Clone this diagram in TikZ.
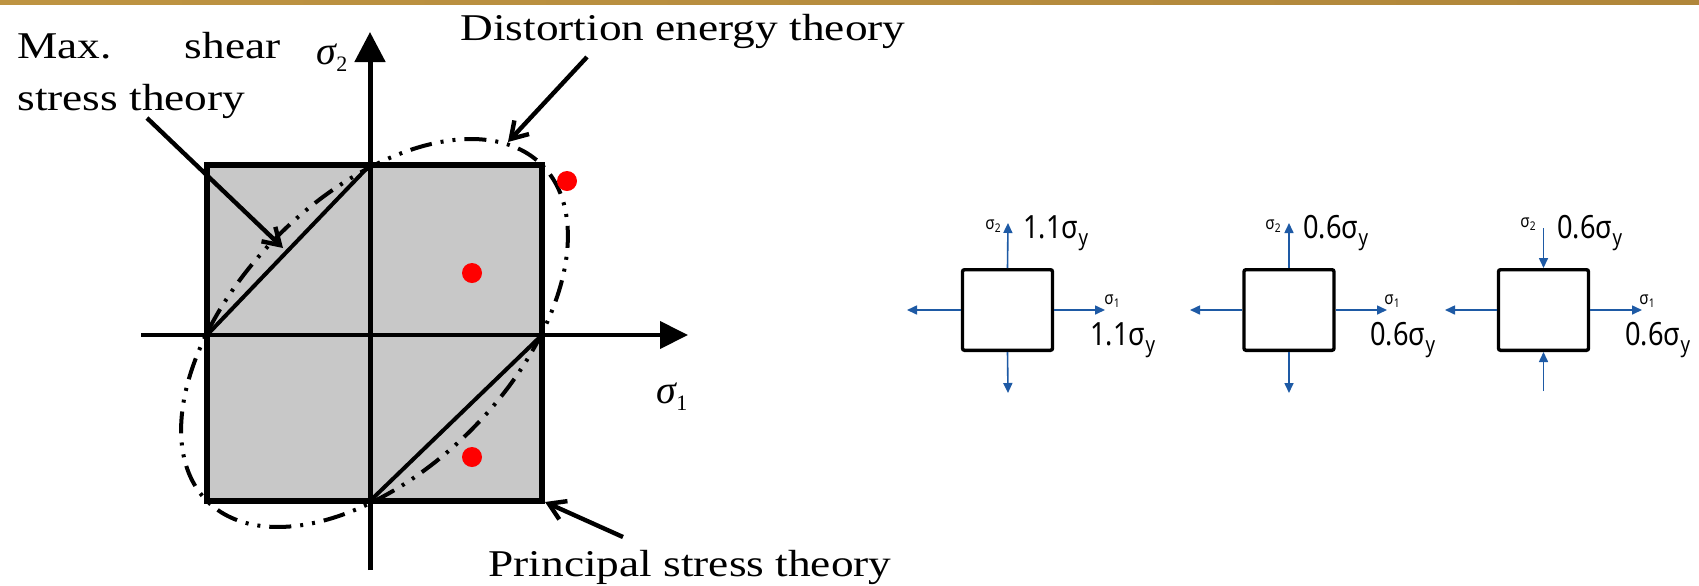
\documentclass[tikz,border=0pt]{standalone}
\usepackage{fontspec}
\setmainfont{Liberation Serif}
\newfontfamily\timesx[FakeStretch=1.2]{Liberation Serif}
\newfontfamily\sansx[FakeStretch=0.85]{Noto Sans}
\usetikzlibrary{arrows.meta}
\definecolor{goldA}{RGB}{190,148,66}
\definecolor{goldM}{RGB}{222,190,112}
\definecolor{goldB}{RGB}{176,134,58}
\definecolor{fillgray}{RGB}{200,200,200}
\definecolor{fblue}{RGB}{30,90,165}
\definecolor{dotred}{RGB}{255,0,0}
\begin{document}
\begin{tikzpicture}[x=0.5pt,y=-0.5pt,
  lbl/.style={font=\timesx\fontsize{18.9}{22}\selectfont, inner sep=0pt, anchor=base west},
  axlbl/.style={font=\fontsize{20}{22}\selectfont, inner sep=0pt},
  callout/.style={line width=2.2pt, -{Straight Barb[length=8pt,width=10pt]}},
  ell/.style={line width=2pt, dash pattern=on 11pt off 4.5pt on 1.5pt off 4.5pt on 1.5pt off 4.5pt},
  elem/.style={draw, line width=1.7pt, minimum width=45pt, minimum height=40.3pt, inner sep=0pt, rounded corners=1pt},
  force/.style={draw=fblue, line width=0.8pt, -{Triangle[length=5pt,width=4.5pt]}},
  val/.style={font=\sansx\fontsize{16}{18}\selectfont, inner sep=0pt, anchor=base west},
  sml/.style={font=\sansx\fontsize{9}{10}\selectfont, inner sep=0pt},
  reddot/.style={fill=dotred}
]
\useasboundingbox (0,0) rectangle (1699,585);
\fill[white] (0,0) rectangle (1699,585);
\shade[left color=goldA, middle color=goldM, right color=goldB] (0,0) rectangle (1699,4.5);

% ---- failure-theory diagram ----
\fill[fillgray] (207,165) rectangle (542,501);
\draw[line width=2pt] (207,335) -- (370,165);
\draw[line width=2pt] (370,501) -- (542,335);
\draw[ell] plot[domain=0:360, samples=120, smooth cycle]
  ({374.5+167.5*(cos(\x)-0.57735*sin(\x))}, {333-168*(cos(\x)+0.57735*sin(\x))});
\coordinate (o) at (370,335);
\coordinate (xs) at (141,335);
\coordinate (xe) at (688,335);
\coordinate (ys) at (370,570);
\coordinate (ye) at (370,32);
\draw[line width=2pt, -{Triangle[length=14pt,width=13.5pt]}] (xs) -- (xe);
\draw[line width=2.5pt, -{Triangle[length=15pt,width=15pt]}] (ys) -- (ye);
\draw[line width=3pt] (207,165) rectangle (542,501);

\fill[reddot] (472,273) circle[radius=5pt];
\fill[reddot] (567,181) circle[radius=5pt];
\fill[reddot] (472,457) circle[radius=5pt];

\node[axlbl] (s2) at (332,58) {{\itshape σ}\raisebox{-3.5pt}{\fontsize{11}{11}\selectfont 2}};
\node[axlbl] (s1) at (672,397) {{\itshape σ}\raisebox{-3.5pt}{\fontsize{11}{11}\selectfont 1}};

\node[lbl] (max) at (17,58) {\makebox[131.5pt][s]{Max.\hfill shear}};
\node[lbl] (sst) at (17,110) {stress theory};
\node[lbl] (det) at (460,40) {Distortion energy theory};
\node[lbl] (pst) at (488,576) {Principal stress theory};

\coordinate (c1s) at (147,118);
\coordinate (c1e) at (283,248);
\coordinate (c2s) at (587,57);
\coordinate (c2e) at (508,142);
\coordinate (c3s) at (623,537);
\coordinate (c3e) at (545,502);
\draw[callout] (c1s) -- (c1e);
\draw[callout] (c2s) -- (c2e);
\draw[callout] (c3s) -- (c3e);

% ---- stress elements ----
\node[elem] (e1) at (1007.5,310) {};
\node[elem] (e2) at (1289,310) {};
\node[elem] (e3) at (1543.5,310) {};

\coordinate (e1u) at (1008,223);
\coordinate (e1d) at (1008,393);
\coordinate (e1l) at (907,310);
\coordinate (e1r) at (1105,310);
\draw[force] (e1.north) -- (e1u);
\draw[force] (e1.south) -- (e1d);
\draw[force] (e1.west) -- (e1l);
\draw[force] (e1.east) -- (e1r);

\coordinate (e2u) at (1289,223);
\coordinate (e2d) at (1289,393);
\coordinate (e2l) at (1190,310);
\coordinate (e2r) at (1387,310);
\draw[force] (e2.north) -- (e2u);
\draw[force] (e2.south) -- (e2d);
\draw[force] (e2.west) -- (e2l);
\draw[force] (e2.east) -- (e2r);

\coordinate (e3u) at (1543.5,228);
\coordinate (e3d) at (1543.5,391);
\coordinate (e3l) at (1445,310);
\coordinate (e3r) at (1642,310);
\draw[force] (e3u) -- (e3.north);
\draw[force] (e3d) -- (e3.south);
\draw[force] (e3.west) -- (e3l);
\draw[force] (e3.east) -- (e3r);

\node[sml] (e1s2) at (993,226) {σ\raisebox{-1.5pt}{\fontsize{6}{6}\selectfont 2}};
\node[sml] (e1s1) at (1112,301) {σ\raisebox{-1.5pt}{\fontsize{6}{6}\selectfont 1}};
\node[val] (e1v2) at (1023,238) {1.1σ\raisebox{-3.5pt}{\fontsize{11}{11}\selectfont y}};
\node[val] (e1v1) at (1090,345) {1.1σ\raisebox{-3.5pt}{\fontsize{11}{11}\selectfont y}};

\node[sml] (e2s2) at (1273,226) {σ\raisebox{-1.5pt}{\fontsize{6}{6}\selectfont 2}};
\node[sml] (e2s1) at (1392,301) {σ\raisebox{-1.5pt}{\fontsize{6}{6}\selectfont 1}};
\node[val] (e2v2) at (1303,238) {0.6σ\raisebox{-3.5pt}{\fontsize{11}{11}\selectfont y}};
\node[val] (e2v1) at (1370,345) {0.6σ\raisebox{-3.5pt}{\fontsize{11}{11}\selectfont y}};

\node[sml] (e3s2) at (1528,224) {σ\raisebox{-1.5pt}{\fontsize{6}{6}\selectfont 2}};
\node[sml] (e3s1) at (1647,301) {σ\raisebox{-1.5pt}{\fontsize{6}{6}\selectfont 1}};
\node[val] (e3v2) at (1557,238) {0.6σ\raisebox{-3.5pt}{\fontsize{11}{11}\selectfont y}};
\node[val] (e3v1) at (1625,345) {0.6σ\raisebox{-3.5pt}{\fontsize{11}{11}\selectfont y}};
\end{tikzpicture}
\end{document}
